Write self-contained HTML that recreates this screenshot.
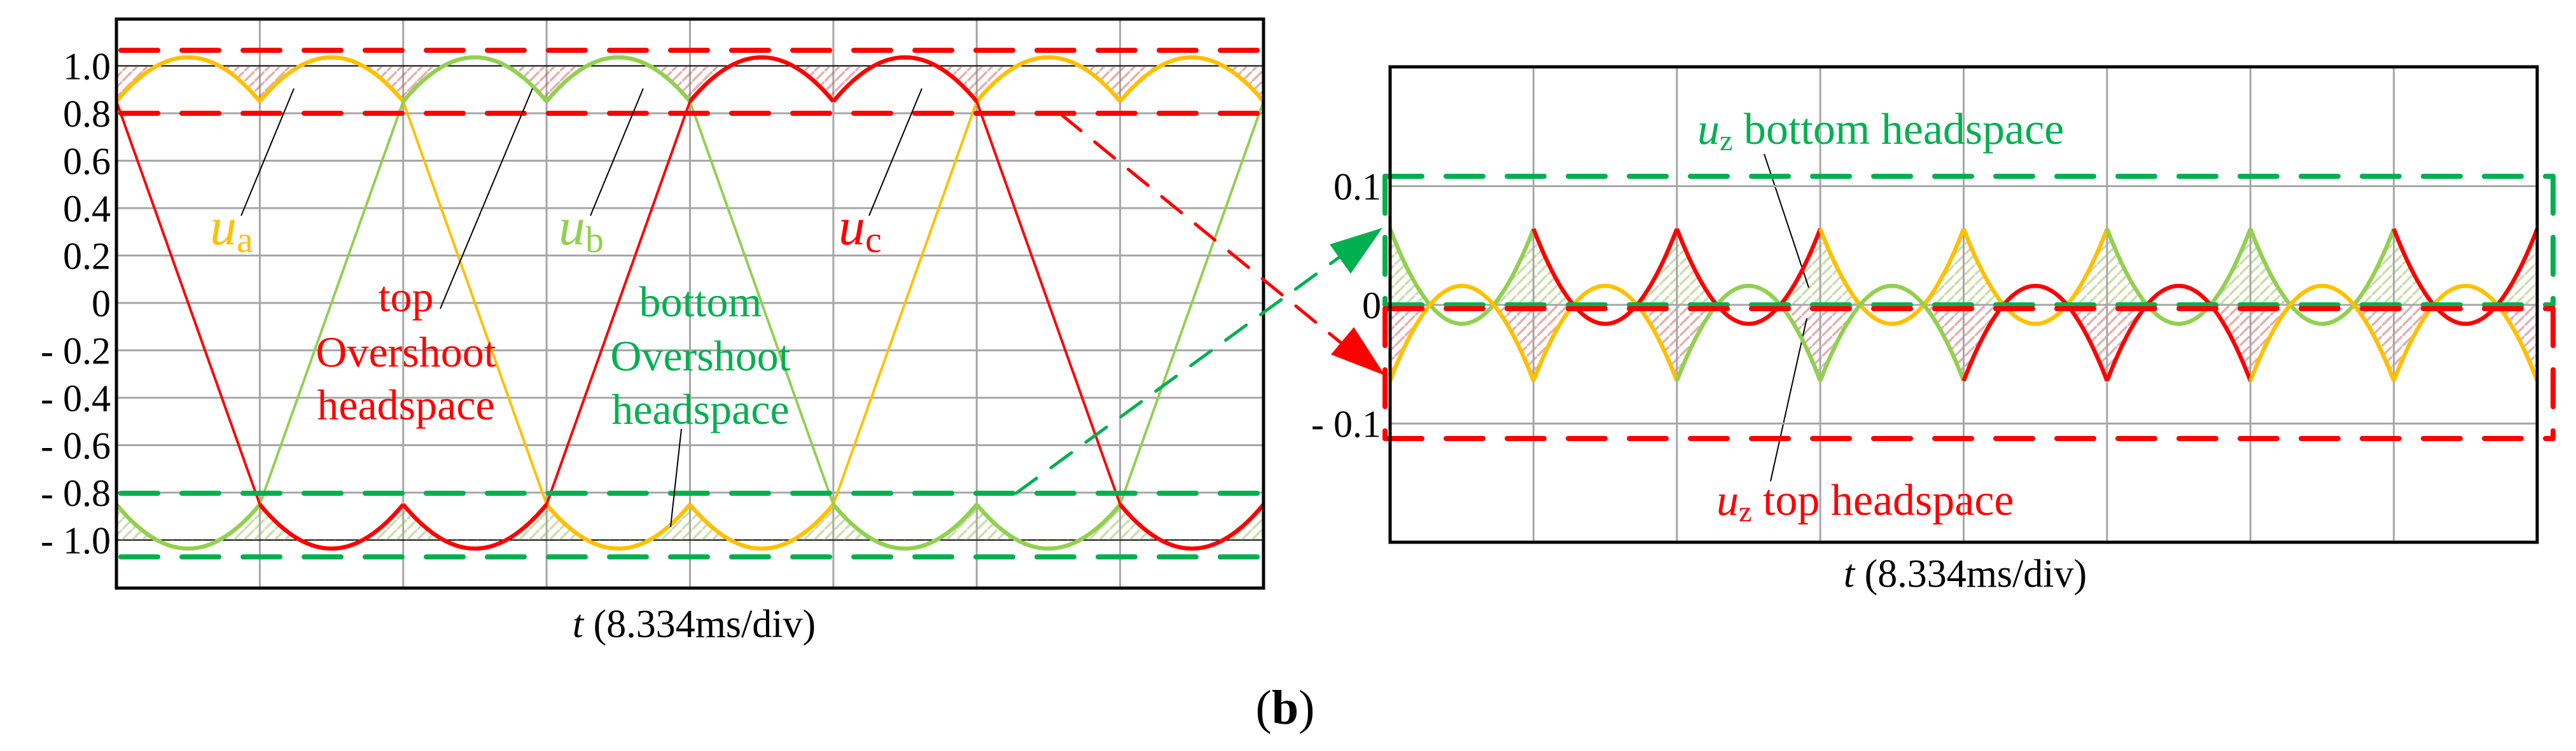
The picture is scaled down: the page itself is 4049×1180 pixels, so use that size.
<!DOCTYPE html>
<html><head><meta charset="utf-8">
<style>
html,body{margin:0;padding:0;background:#fff;}
svg{display:block;}
svg text, svg tspan{font-family:"Liberation Serif","Times New Roman",Times,"DejaVu Serif",serif !important;}
</style></head>
<body>
<svg id="s" width="4049" height="1180" viewBox="0 0 4049 1180" xmlns="http://www.w3.org/2000/svg">
<defs>
<pattern id="hr" width="16" height="16" patternUnits="userSpaceOnUse"><path d="M-4,20 L20,-4" stroke="#C0504D" stroke-width="3.5" opacity="0.45"/></pattern>
<pattern id="hg" width="16" height="16" patternUnits="userSpaceOnUse"><path d="M-4,20 L20,-4" stroke="#9BBB59" stroke-width="3.5" opacity="0.5"/></pattern>
<clipPath id="cLt"><rect x="183" y="105" width="1803" height="371"/></clipPath>
<clipPath id="cLb"><rect x="183" y="476" width="1803" height="374"/></clipPath>
<clipPath id="cRt"><rect x="2185" y="105" width="1803" height="374"/></clipPath>
<clipPath id="cRb"><rect x="2185" y="479" width="1803" height="373"/></clipPath>
</defs>
<g id="g"></g>
</svg>
<script>
(function(){
var g=document.getElementById('g');var NS='http://www.w3.org/2000/svg';
var FF='font-family:"Liberation Serif","Times New Roman",serif';
function el(t,a,txt){var e=document.createElementNS(NS,t);for(var k in a)e.setAttribute(k,a[k]);if(t==='text')e.setAttribute('style',FF);if(txt!==undefined)e.textContent=txt;g.appendChild(e);return e;}
var Y='#FFC000',LG='#92D050',R='#FF0000',DG='#00B050',GR='#A6A6A6';
var LX0=183,LW=1803/8;function LX(d){return LX0+d*LW;}function LY(v){return 476-v*372.5;}
var P=1.036,C=0.85,c30=Math.cos(Math.PI/6);
function bump(fr){var ph=(fr-0.5)*Math.PI/3;return P-(P-C)*(1-Math.cos(ph))/(1-c30);}
function f(d){var p=((d%6)+6)%6;
 if(p<2)return bump(p%1);if(p<3)return C-2*C*(p-2);if(p<5)return -bump((p-3)%1);return -C+2*C*(p-5);}
function ua(d){return f(d);}function ub(d){return f(d-2);}function uc(d){return f(d+2);}
for(var i=1;i<8;i++)el('line',{x1:LX(i),y1:30,x2:LX(i),y2:924,stroke:GR,'stroke-width':3});
for(var v=-1;v<=1.001;v+=0.2){var vv=Math.round(v*10)/10;
 el('line',{x1:183,y1:LY(vv),x2:1986,y2:LY(vv),stroke:(Math.abs(vv)==1?'#000':GR),'stroke-width':(Math.abs(vv)==1?2:3)});
 var lab=vv==0?'0':(vv<0?'- ':'')+Math.abs(vv).toFixed(1);
 el('text',{x:174,y:LY(vv)+21,'font-size':60,'text-anchor':'end'},lab);}
var N=800,pt=[],pb=[];
for(var k=0;k<=N;k++){var d=8*k/N;var a=ua(d),b=ub(d),c=uc(d);pt.push(LX(d).toFixed(1)+','+LY(Math.max(a,b,c)).toFixed(1));pb.push(LX(d).toFixed(1)+','+LY(Math.min(a,b,c)).toFixed(1));}
el('path',{d:'M'+pt.join(' L')+' L1986,'+LY(1)+' L183,'+LY(1)+'Z',fill:'url(#hr)','clip-path':'url(#cLt)'});
el('path',{d:'M'+pb.join(' L')+' L1986,'+LY(-1)+' L183,'+LY(-1)+'Z',fill:'url(#hg)','clip-path':'url(#cLb)'});
function seg(fn,d0,d1,col,w){var s=[];for(var k=0;k<=60;k++){var d=d0+(d1-d0)*k/60;s.push(LX(d).toFixed(1)+','+LY(fn(d)).toFixed(1));}
 el('path',{d:'M'+s.join(' L'),fill:'none',stroke:col,'stroke-width':w,'stroke-linejoin':'round'});}
function drawPhase(fn,off,col){for(var s=-2;s<10;s++){var d0=s,d1=s+1;if(d1<=0||d0>=8)continue;
 var p=(((d0+off)%6)+6)%6;var ramp=(p>=2&&p<3)||(p>=5&&p<6);seg(fn,Math.max(0,d0),Math.min(8,d1),col,ramp?4:6.5);}}
drawPhase(ua,0,Y);drawPhase(ub,-2,LG);drawPhase(uc,2,R);
function dl(x1,y1,x2,y2,col,w,da){el('line',{x1:x1,y1:y1,x2:x2,y2:y2,stroke:col,'stroke-width':w,'stroke-dasharray':da,'stroke-linecap':'round'});}
dl(190,79,1986,79,R,8,'58 38');dl(190,178,1986,178,R,8,'58 38');
dl(190,775,1986,775,DG,8,'58 38');dl(190,875,1986,875,DG,8,'58 38');
el('rect',{x:183,y:30,width:1803,height:894,fill:'none',stroke:'#000','stroke-width':5});
[[379,339,462,139],[692,485,837,139],[928,339,1011,139],[1366,339,1449,139],[1054,828,1071,674],
 [2773,242,2843,452],[2783,756,2840,500]].forEach(function(l){el('line',{x1:l[0],y1:l[1],x2:l[2],y2:l[3],stroke:'#000','stroke-width':2});});
function ulab(x,y,sub,col){var t=el('text',{x:x,y:y,fill:col,'font-size':84});var a=document.createElementNS(NS,'tspan');a.setAttribute('font-style','italic');a.textContent='u';t.appendChild(a);
 var b=document.createElementNS(NS,'tspan');b.setAttribute('font-size',58);b.setAttribute('dy',12);b.textContent=sub;t.appendChild(b);}
ulab(330,384,'a',Y);ulab(878,384,'b',LG);ulab(1318,384,'c',R);
[['top',489],['Overshoot',576],['headspace',659]].forEach(function(q){el('text',{x:638,y:q[1],'font-size':68,fill:R,'text-anchor':'middle'},q[0]);});
[['bottom',497],['Overshoot',582],['headspace',666]].forEach(function(q){el('text',{x:1101,y:q[1],'font-size':68,fill:DG,'text-anchor':'middle'},q[0]);});
function xlab(x,y){var t=el('text',{x:x,y:y,'font-size':62,'text-anchor':'middle'});var a=document.createElementNS(NS,'tspan');a.setAttribute('font-style','italic');a.textContent='t';t.appendChild(a);
 var b=document.createElementNS(NS,'tspan');b.textContent=' (8.334ms/div)';t.appendChild(b);}
xlab(1091,1001);xlab(3089,922);
var bt=el('text',{x:2020,y:1137,'font-size':76,'text-anchor':'middle'});bt.textContent='(';var bb=document.createElementNS(NS,'tspan');bb.setAttribute('font-weight','bold');bb.textContent='b';bt.appendChild(bb);bt.appendChild(document.createTextNode(')'));
var RX0=2185;function RX(d){return RX0+d*LW;}function RY(v){return 479-v*1865;}
for(var i=1;i<8;i++)el('line',{x1:RX(i),y1:105,x2:RX(i),y2:852,stroke:GR,'stroke-width':3});
[0.1,0,-0.1].forEach(function(v){el('line',{x1:2185,y1:RY(v),x2:3988,y2:RY(v),stroke:GR,'stroke-width':3});});
el('text',{x:2171,y:RY(0.1)+21,'font-size':60,'text-anchor':'end'},'0.1');
el('text',{x:2171,y:RY(0)+21,'font-size':60,'text-anchor':'end'},'0');
el('text',{x:2171,y:RY(-0.1)+21,'font-size':60,'text-anchor':'end'},'- 0.1');
function zt(fr){var ph=(fr-0.5)*Math.PI/3;return 0.064-0.08*(Math.cos(ph)-c30)/(1-c30);}
var topC=[LG,R,R,Y,Y,LG,LG,R],botC=[Y,Y,LG,LG,R,R,Y,Y];
var ht=[],hb=[];
for(var dv=0;dv<8;dv++){var st=[],sb=[];for(var k=0;k<=50;k++){var fr=k/50;var x=RX(dv+fr).toFixed(1);st.push(x+','+RY(zt(fr)).toFixed(1));sb.push(x+','+RY(-zt(fr)).toFixed(1));}
 ht=ht.concat(st);hb=hb.concat(sb);
 el('path',{d:'M'+st.join(' L'),fill:'none',stroke:topC[dv],'stroke-width':6.5,'stroke-linejoin':'round'});
 el('path',{d:'M'+sb.join(' L'),fill:'none',stroke:botC[dv],'stroke-width':6.5,'stroke-linejoin':'round'});}
var hg=el('path',{d:'M'+ht.join(' L')+' L3988,479 L2185,479Z',fill:'url(#hg)','clip-path':'url(#cRt)'});
var hr=el('path',{d:'M'+hb.join(' L')+' L3988,479 L2185,479Z',fill:'url(#hr)','clip-path':'url(#cRb)'});
g.insertBefore(hg,g.firstChild);g.insertBefore(hr,g.firstChild);
dl(2177,277,4013,277,DG,8,'58 38');dl(4013,277,4013,479,DG,8,'58 38');dl(2177,479,4013,479,DG,8,'58 38');dl(2177,277,2177,479,DG,8,'58 38');
dl(2177,485,4013,485,R,8,'58 38');dl(2177,689,4013,689,R,8,'58 38');dl(4013,485,4013,689,R,8,'58 38');dl(2177,485,2177,689,R,8,'58 38');
el('rect',{x:2185,y:105,width:1803,height:747,fill:'none',stroke:'#000','stroke-width':5});
function zlab(x,y,col,rest){var t=el('text',{x:x,y:y,'font-size':70,fill:col});
 var a=document.createElementNS(NS,'tspan');a.setAttribute('font-style','italic');a.textContent='u';t.appendChild(a);
 var b=document.createElementNS(NS,'tspan');b.setAttribute('font-size',46);b.setAttribute('dy',10);b.textContent='z';t.appendChild(b);
 var c=document.createElementNS(NS,'tspan');c.setAttribute('dy',-10);c.textContent=rest;t.appendChild(c);}
zlab(2668,226,DG,' bottom headspace');zlab(2698,809,R,' top headspace');
dl(1668,180,2140,565,R,5,'40 28');
el('polygon',{points:'2177,590 2092,557 2128,514',fill:R});
dl(1597,775,2130,386,DG,5,'40 28');
el('polygon',{points:'2173,358 2090,384 2123,430',fill:DG});
})();
</script>
</body></html>
